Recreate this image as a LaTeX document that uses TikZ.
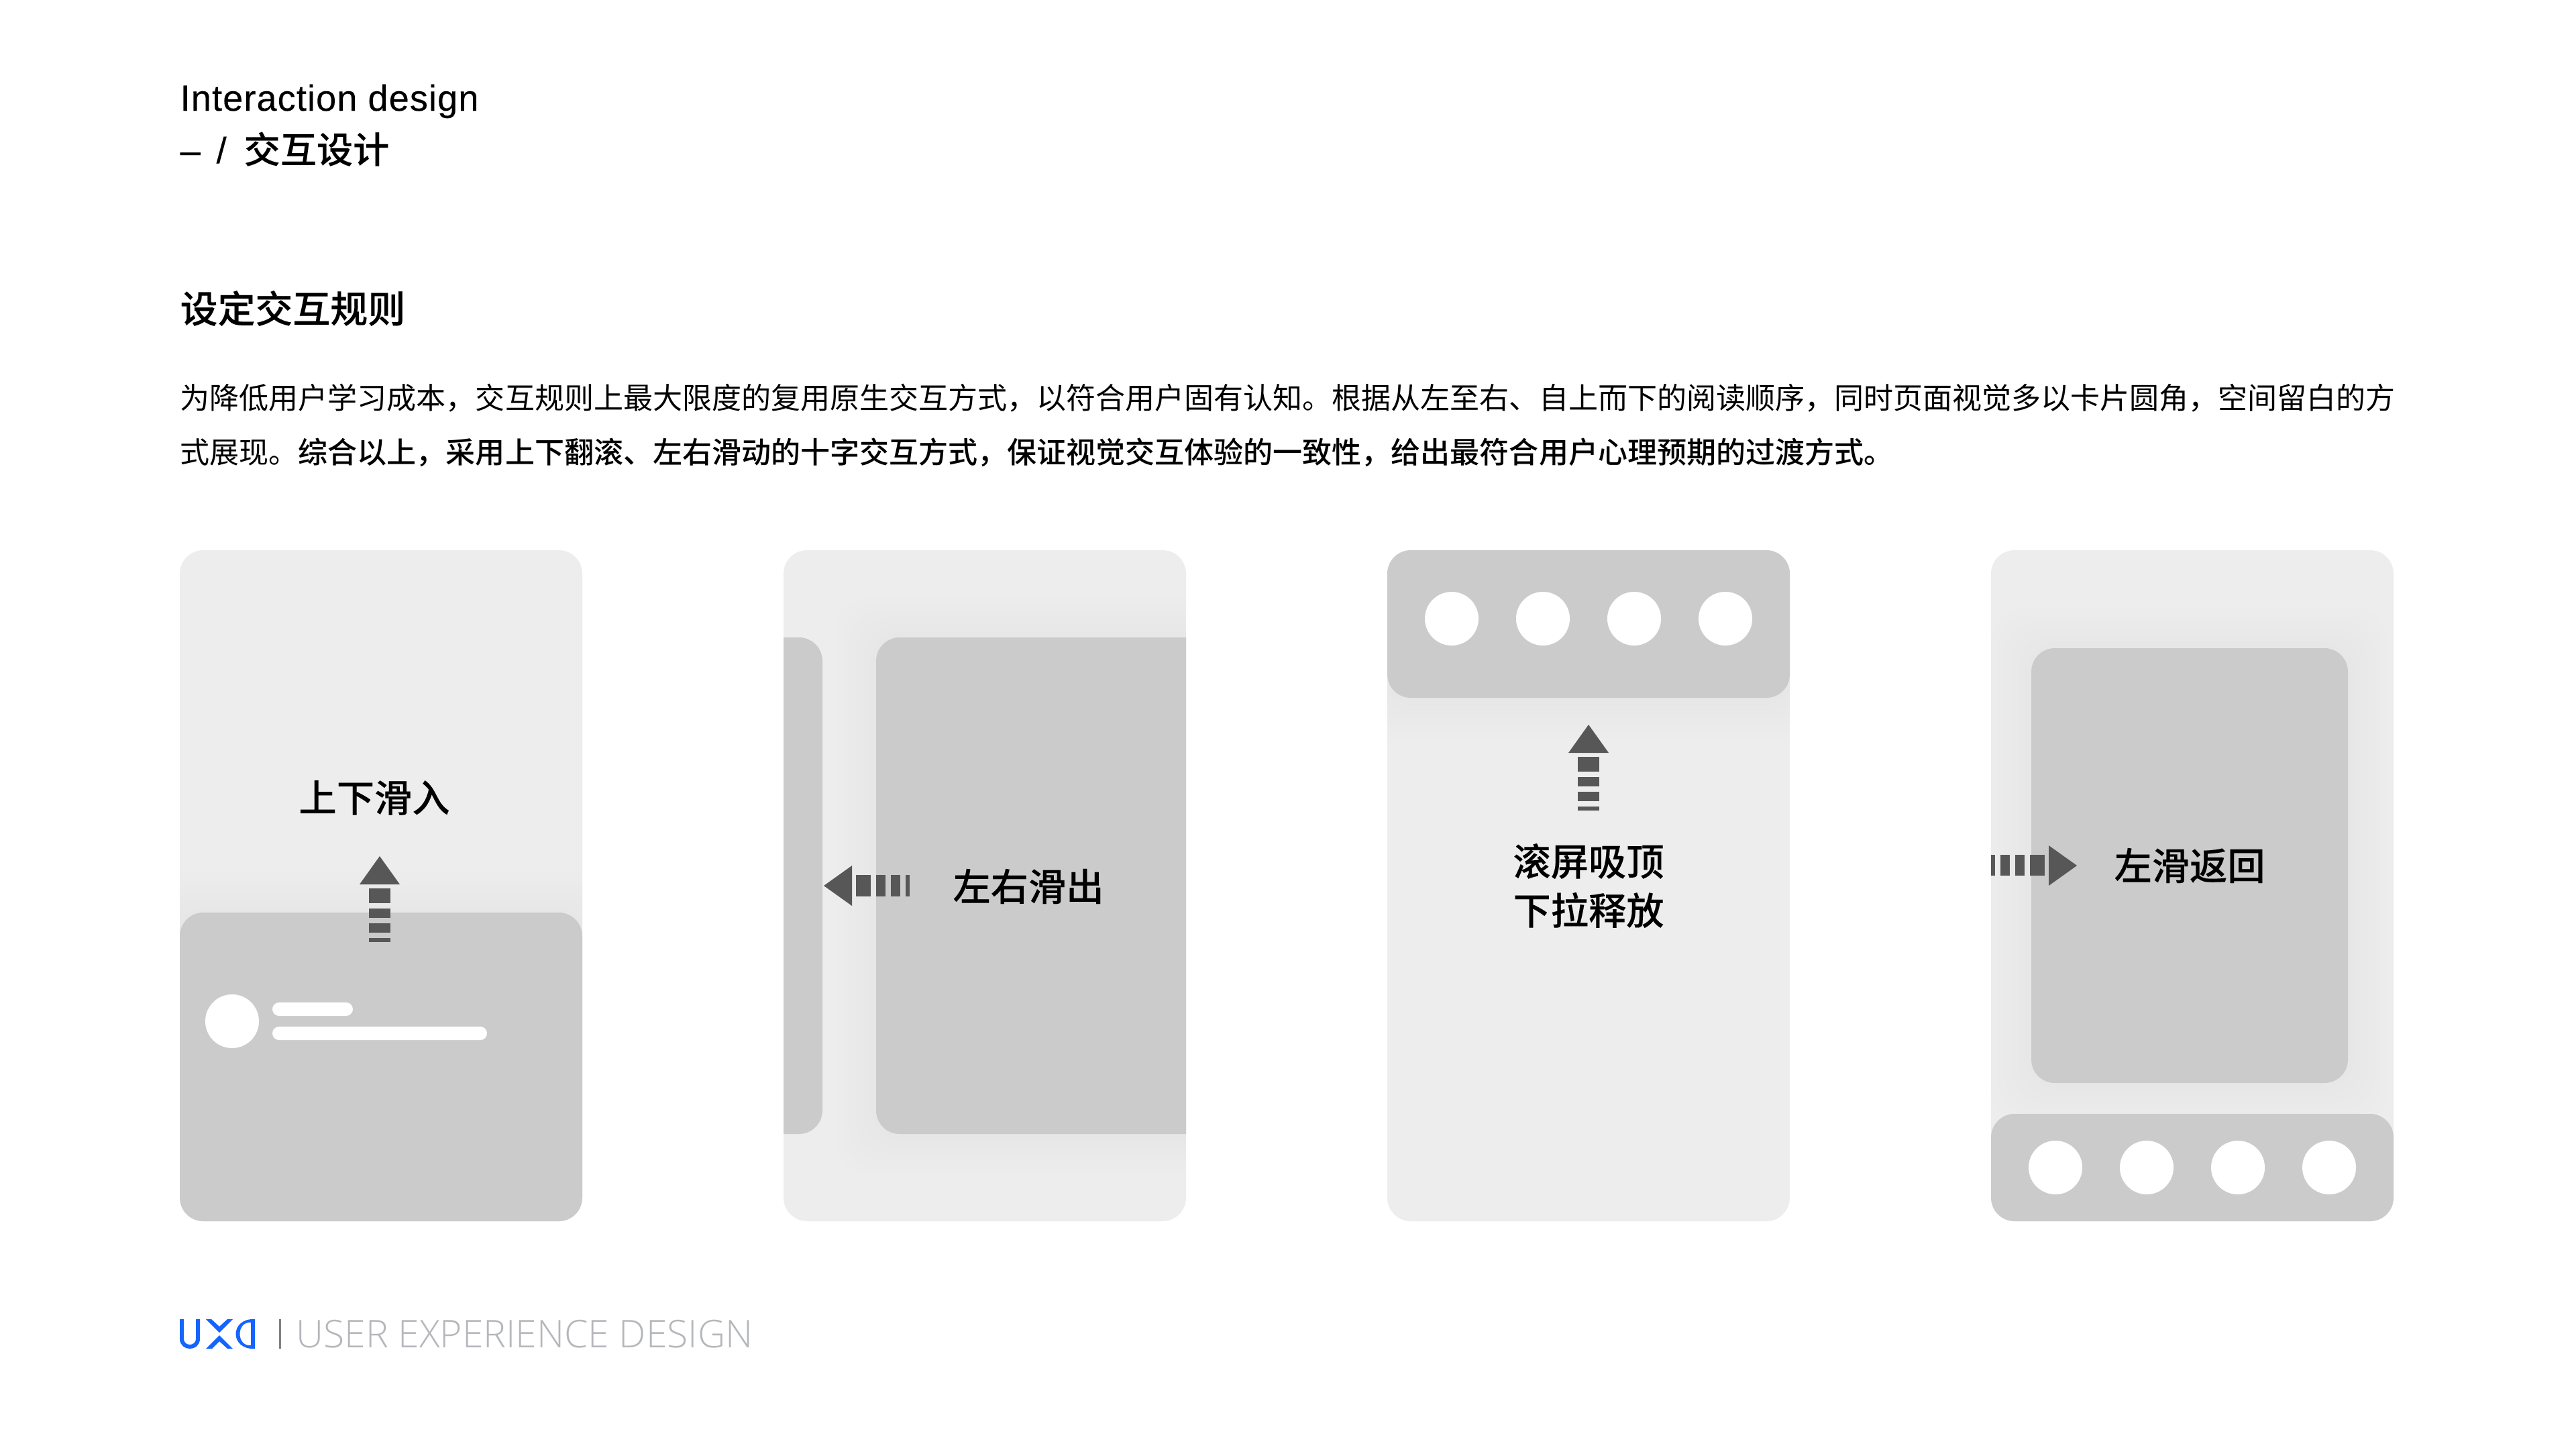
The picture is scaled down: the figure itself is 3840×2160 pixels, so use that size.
\documentclass[tikz,border=0pt]{standalone}
\usepackage{fontspec}
\setmainfont{Noto Sans CJK SC}
\newfontfamily\cjkmedium{Noto Sans CJK SC Medium}
\newfontfamily\cjkheavy[FakeBold=0.25]{Noto Sans CJK SC Medium}
\newfontfamily\cjklabel[FakeBold=0.12]{Noto Sans CJK SC Medium}
\newfontfamily\latinfont[LetterSpace=2,FakeBold=0.2]{Liberation Sans}
\newfontfamily\footfont{Open Sans Light}
\definecolor{panelgrey}{HTML}{EDEDED}
\definecolor{cardgrey}{HTML}{CBCBCB}
\definecolor{arrowgrey}{HTML}{575757}
\definecolor{logoblue}{HTML}{1464FF}
\definecolor{footgrey}{HTML}{B5B7BB}
\tikzset{
  panelbox/.style={fill=panelgrey,rounded corners=0.35cm},
  cardbox/.style={fill=cardgrey,rounded corners=0.35cm},
  shadowbox/.style={fill=black,fill opacity=0.004,rounded corners=0.5cm},
  bartip/.style={fill=arrowgrey},
  titletext/.style={anchor=base west,inner sep=0pt,font=\fontsize{15.4}{18}\selectfont},
  headtext/.style={anchor=base west,inner sep=0pt,font=\fontsize{15.9}{18}\cjkheavy},
  bodytext/.style={anchor=base west,inner sep=0pt,font=\fontsize{12.52}{15}\selectfont},
  labeltext/.style={inner sep=0pt,align=center,font=\fontsize{16}{20.8}\cjklabel},
}
\begin{document}
\begin{tikzpicture}[x=0.01cm,y=-0.01cm]
\useasboundingbox (0,0) rectangle (3840,2160);
\fill[white] (0,0) rectangle (3840,2160);
% header
\node[titletext] (title) at (268,165) {\latinfont Interaction design};
\node[titletext] (subtitle) at (268,243) {\latinfont –\hspace{0.44em}/\hspace{0.48em}{\cjklabel 交互设计}};
\node[headtext] (head) at (268,481) {设定交互规则};
\node[bodytext] (bodya) at (268,609) {为降低用户学习成本，交互规则上最大限度的复用原生交互方式，以符合用户固有认知。根据从左至右、自上而下的阅读顺序，同时页面视觉多以卡片圆角，空间留白的方};
\node[bodytext] (bodyb) at (268,690) {式展现。{\cjkmedium 综合以上，采用上下翻滚、左右滑动的十字交互方式，保证视觉交互体验的一致性，给出最符合用户心理预期的过渡方式。}};
% panel one
\fill[panelbox] (268,820) rectangle (868,1820);
\begin{scope}
\clip[rounded corners=0.35cm] (268,820) rectangle (868,1820);
\foreach \s in {10,20,...,60}
  \fill[shadowbox] (268-\s,1360-\s) rectangle (868+\s,1819+\s);
\end{scope}
\fill[cardbox] (268,1360) rectangle (868,1820);
\fill[white] (346,1522) circle (0.4cm);
\fill[white,rounded corners=0.1cm] (406,1494) rectangle (526,1514);
\fill[white,rounded corners=0.1cm] (406,1530) rectangle (726,1550);
\fill[bartip] (566,1276) -- (596,1318) -- (536,1318) -- cycle;
\foreach \ya/\yb in {1324/1346,1354/1368,1376/1390,1398/1404}
  \fill[bartip] (550,\ya) rectangle (582,\yb);
\node[labeltext] (labela) at (558,1189) {上下滑入};
% panel two
\fill[panelbox] (1168,820) rectangle (1768,1820);
\begin{scope}
\clip[rounded corners=0.35cm] (1168,820) rectangle (1768,1820);
\foreach \s in {10,20,...,60} {
  \fill[shadowbox] (1306-\s,950-\s) rectangle (1808+\s,1690+\s);
}
\fill[cardbox] (1120,950) rectangle (1226,1690);
\fill[cardbox] (1306,950) rectangle (1810,1690);
\end{scope}
\fill[bartip] (1228,1320) -- (1270,1290) -- (1270,1350) -- cycle;
\foreach \xa/\xb in {1276/1298,1306/1320,1328/1342,1350/1356}
  \fill[bartip] (\xa,1304) rectangle (\xb,1336);
\node[labeltext] (labelb) at (1533,1321) {左右滑出};
% panel three
\fill[panelbox] (2068,820) rectangle (2668,1820);
\begin{scope}
\clip[rounded corners=0.35cm] (2068,820) rectangle (2668,1820);
\foreach \s in {10,20,...,60}
  \fill[shadowbox] (2068-\s,820-\s) rectangle (2668+\s,1040+\s);
\end{scope}
\fill[cardbox] (2068,820) rectangle (2668,1040);
\foreach \cx in {2164,2300,2436,2572}
  \fill[white] (\cx,922) circle (0.4cm);
\fill[bartip] (2368,1080) -- (2398,1122) -- (2338,1122) -- cycle;
\foreach \ya/\yb in {1128/1150,1158/1172,1180/1194,1202/1208}
  \fill[bartip] (2352,\ya) rectangle (2384,\yb);
\node[labeltext] (labelc) at (2368,1320) {滚屏吸顶\\下拉释放};
% panel four
\fill[panelbox] (2968,820) rectangle (3568,1820);
\begin{scope}
\clip[rounded corners=0.35cm] (2968,820) rectangle (3568,1820);
\foreach \s in {10,20,...,60}
  \fill[shadowbox] (3028-\s,966-\s) rectangle (3500+\s,1614+\s);
\end{scope}
\fill[cardbox] (3028,966) rectangle (3500,1614);
\fill[cardbox] (2968,1660) rectangle (3568,1820);
\foreach \cx in {3064,3200,3336,3472}
  \fill[white] (\cx,1740) circle (0.4cm);
\fill[bartip] (3096,1290) -- (3054,1260) -- (3054,1320) -- cycle;
\foreach \xa/\xb in {2968/2974,2982/2996,3004/3018,3026/3048}
  \fill[bartip] (\xa,1274) rectangle (\xb,1305);
\node[labeltext] (labeld) at (3264,1290) {左滑返回};
% footer
\draw[logoblue,line width=0.06cm] (271,1966) -- (271,1995) .. controls (271,2011) and (295,2011) .. (295,1995) -- (295,1966);
\fill[logoblue] (307,1966) -- (315,1966) -- (327,1977) -- (339,1966) -- (347,1966) -- (327,1986) -- cycle;
\fill[logoblue] (327,1990) -- (347,2010) -- (339,2010) -- (327,1999) -- (316,2010) -- (307,2010) -- cycle;
\fill[logoblue,even odd rule] (380,1966) -- (380,2010) .. controls (342,2012) and (342,1964) .. (380,1966)
  (374,1971) .. controls (352,1969) and (352,2007) .. (374,2005) -- cycle;
\draw[footgrey!70!black,line width=0.03cm] (417.5,1966) -- (417.5,2010);
\node[anchor=base west,inner sep=0pt,text=footgrey,font=\fontsize{16.2}{18}\footfont] (foot) at (441,2008) {USER EXPERIENCE DESIGN};
\end{tikzpicture}
\end{document}
